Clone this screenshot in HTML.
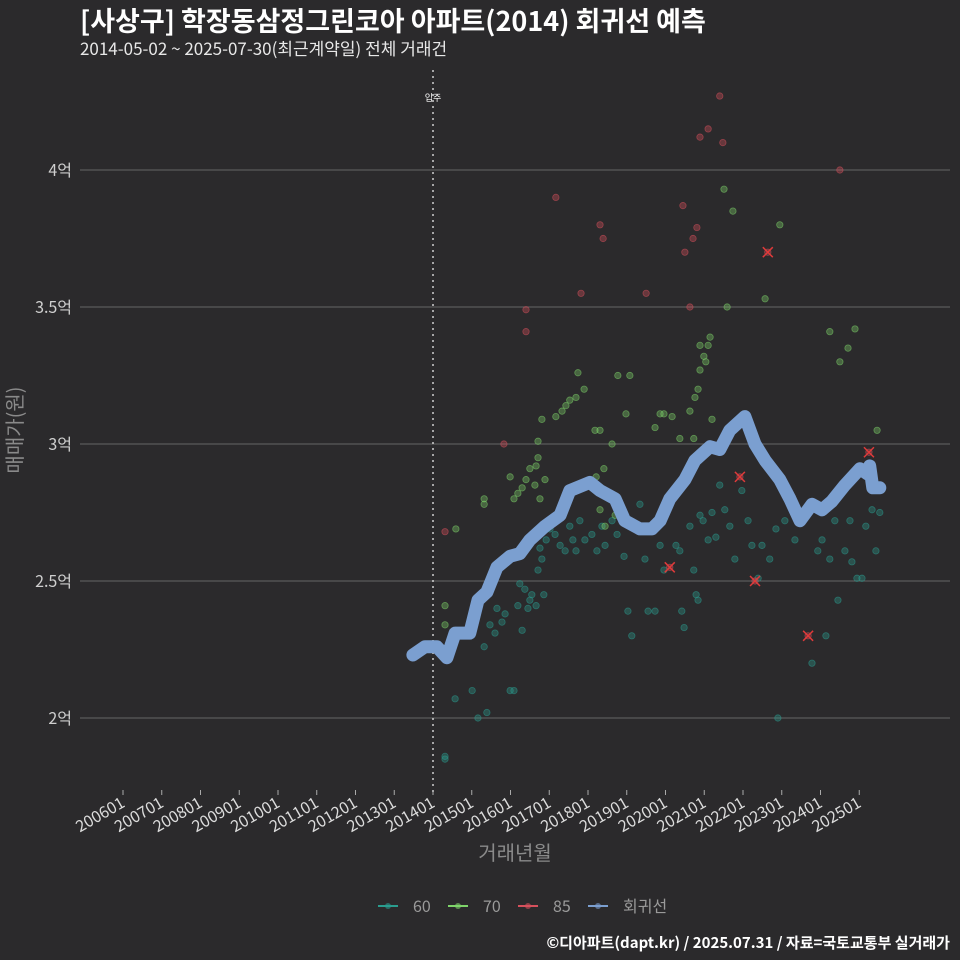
<!DOCTYPE html>
<html><head><meta charset="utf-8"><style>
html,body{margin:0;padding:0;background:#2b2a2c;}
svg{display:block;font-family:"Noto Sans CJK KR","Liberation Sans",sans-serif;}
</style></head><body>
<svg id="chart" width="960" height="960" viewBox="0 0 960 960">
<rect x="0" y="0" width="960" height="960" fill="#2b2a2c"/>
<text x="80" y="31" fill="#ffffff" font-size="27" font-weight="bold">[사상구] 학장동삼정그린코아 아파트(2014) 회귀선 예측</text>
<text x="80" y="55" fill="#e8e8e8" font-size="17">2014-05-02 ~ 2025-07-30(최근계약일) 전체 거래건</text>
<g id="grid"></g>
<g id="axes"></g>
<g id="marks"></g>
<text x="0" y="0" transform="translate(22,430) rotate(-90)" text-anchor="middle" fill="#8a8a8a" font-size="20">매매가(원)</text>
<text x="515" y="860" text-anchor="middle" fill="#8a8a8a" font-size="20">거래년월</text>
<g id="legend"></g>
<text x="950" y="948" text-anchor="end" fill="#ffffff" font-size="15" font-weight="bold">©디아파트(dapt.kr) / 2025.07.31 / 자료=국토교통부 실거래가</text>
</svg>
<script>
const yTicks=[2,2.5,3,3.5,4];
const yTickLabels=["2억","2.5억","3억","3.5억","4억"];
const xTickYears=[2006,2007,2008,2009,2010,2011,2012,2013,2014,2015,2016,2017,2018,2019,2020,2021,2022,2023,2024,2025];
const xTickLabels=["200601","200701","200801","200901","201001","201101","201201","201301","201401","201501","201601","201701","201801","201901","202001","202101","202201","202301","202401","202501"];
const moveInYear=2014;
const s60Years=[2014.31,2014.31,2014.57,2015.01,2015.16,2015.39,2015.32,2015.47,2015.60,2015.65,2015.78,2015.86,2015.99,2016.09,2016.19,2016.30,2016.24,2016.37,2016.45,2016.50,2016.55,2016.66,2016.71,2016.76,2016.81,2016.86,2016.92,2017.02,2017.15,2017.28,2017.41,2017.53,2017.61,2017.69,2017.79,2017.92,2018.10,2018.23,2018.36,2018.44,2018.62,2018.75,2018.93,2019.03,2019.13,2019.34,2019.47,2019.55,2019.65,2019.73,2019.86,2019.96,2020.27,2020.37,2020.42,2020.48,2020.63,2020.73,2020.79,2020.84,2020.89,2020.97,2021.10,2021.20,2021.30,2021.40,2021.53,2021.66,2021.79,2021.97,2022.13,2022.23,2022.39,2022.49,2022.69,2022.85,2022.90,2023.08,2023.34,2023.47,2023.78,2023.93,2024.04,2024.14,2024.24,2024.37,2024.45,2024.63,2024.76,2024.81,2024.94,2025.07,2025.17,2025.33,2025.43,2025.53];
const s60Values=[1.86,1.85,2.07,2.10,2.00,2.02,2.26,2.34,2.31,2.40,2.35,2.38,2.10,2.10,2.41,2.32,2.49,2.47,2.40,2.43,2.45,2.41,2.54,2.62,2.58,2.45,2.65,2.69,2.67,2.63,2.61,2.70,2.65,2.61,2.72,2.65,2.67,2.61,2.70,2.63,2.72,2.67,2.59,2.39,2.30,2.78,2.58,2.39,2.69,2.39,2.63,2.54,2.63,2.61,2.39,2.33,2.70,2.54,2.45,2.43,2.74,2.72,2.65,2.75,2.66,2.85,2.76,2.70,2.58,2.83,2.72,2.63,2.51,2.63,2.58,2.69,2.00,2.72,2.65,2.72,2.20,2.61,2.65,2.30,2.58,2.72,2.43,2.61,2.72,2.57,2.51,2.51,2.70,2.76,2.61,2.75];
const s70Years=[2014.31,2014.31,2014.59,2015.32,2015.32,2015.99,2016.09,2016.19,2016.30,2016.40,2016.50,2016.63,2016.66,2016.71,2016.71,2016.81,2017.17,2017.33,2017.43,2017.53,2017.69,2017.74,2017.90,2018.18,2018.31,2018.41,2018.62,2018.77,2018.98,2019.08,2019.73,2019.86,2019.96,2020.17,2020.37,2020.63,2020.73,2020.76,2020.84,2020.89,2020.89,2020.99,2021.04,2021.10,2021.15,2021.20,2021.51,2021.59,2021.74,2022.57,2022.95,2024.24,2024.50,2024.71,2024.89,2025.46,2018.31,2018.44,2018.70,2016.76,2016.89,2018.21];
const s70Values=[2.41,2.34,2.69,2.80,2.78,2.88,2.80,2.82,2.84,2.87,2.91,2.85,2.92,2.95,3.01,3.09,3.10,3.12,3.14,3.16,3.17,3.26,3.20,3.05,3.05,2.91,3.00,3.25,3.11,3.25,3.06,3.11,3.11,3.10,3.02,3.12,3.02,3.17,3.20,3.27,3.36,3.32,3.30,3.36,3.39,3.09,3.93,3.50,3.85,3.53,3.80,3.41,3.30,3.35,3.42,3.05,2.76,2.70,2.74,2.80,2.87,2.88];
const s85Years=[2014.31,2016.40,2016.40,2015.83,2017.17,2017.82,2018.31,2018.39,2019.50,2020.45,2020.50,2020.63,2020.71,2020.81,2020.89,2021.10,2021.40,2021.48,2021.92,2022.31,2022.64,2023.68,2024.50,2025.25,2020.11];
const s85Values=[2.68,3.49,3.41,3.00,3.90,3.55,3.80,3.75,3.55,3.87,3.70,3.50,3.75,3.79,4.12,4.15,4.27,4.10,2.88,2.50,3.70,2.30,4.00,2.97,2.55];
const highlightYears=[2020.11,2021.92,2022.31,2022.64,2023.68,2025.25];
const highlightValues=[2.55,2.88,2.50,3.70,2.30,2.97];
const regYears=[2013.48,2013.79,2014.10,2014.36,2014.57,2014.95,2015.16,2015.39,2015.65,2015.99,2016.24,2016.50,2016.89,2017.28,2017.53,2018.05,2018.31,2018.70,2018.95,2019.34,2019.65,2019.86,2020.11,2020.50,2020.76,2021.15,2021.40,2021.66,2022.05,2022.31,2022.57,2022.95,2023.21,2023.47,2023.78,2024.04,2024.29,2024.63,2025.02,2025.22,2025.27,2025.35,2025.53];
const regValues=[2.23,2.26,2.26,2.22,2.31,2.31,2.43,2.46,2.55,2.59,2.60,2.65,2.70,2.74,2.83,2.86,2.83,2.80,2.72,2.69,2.69,2.72,2.80,2.87,2.94,2.99,2.98,3.05,3.10,3.00,2.94,2.87,2.80,2.72,2.78,2.76,2.79,2.85,2.91,2.89,2.92,2.84,2.84];

const NS="http://www.w3.org/2000/svg";
function xS(yr){return 433+(yr-2014)*38.75;}
function yS(v){return 718-(v-2)*274;}
function mk(tag,attrs,parent){const e=document.createElementNS(NS,tag);for(const k in attrs)e.setAttribute(k,attrs[k]);parent.appendChild(e);return e;}
const grid=document.getElementById('grid'),axes=document.getElementById('axes'),marks=document.getElementById('marks'),legend=document.getElementById('legend');
yTicks.forEach((t,i)=>{
  const l=mk('line',{x1:80,x2:950,y1:yS(t),y2:yS(t),stroke:'#666',"stroke-width":1},grid);
  
  
  const tx=mk('text',{x:72,y:yS(t)+6,"text-anchor":"end",fill:"#cfcfcf","font-size":16},axes);
  tx.textContent=yTickLabels[i];
  
  
});
xTickYears.forEach((t,i)=>{
  const x=xS(t);
  const tk=mk('line',{x1:x,x2:x,y1:790,y2:795,stroke:'#aaa',"stroke-width":1},axes);
  
  
  const tx=mk('text',{x:0,y:0,transform:`translate(${x+3},${806}) rotate(-30)`,"text-anchor":"end",fill:"#dcdcdc","font-size":16},axes);
  tx.textContent=xTickLabels[i];
  
  
});
const mv=mk('line',{x1:xS(moveInYear),x2:xS(moveInYear),y1:70,y2:792,stroke:'#d0d0d0',"stroke-width":1.5,"stroke-dasharray":"2,4"},marks);


const mvt=mk('text',{x:xS(moveInYear),y:101,"text-anchor":"middle",fill:"#fff","font-size":9},marks);
mvt.textContent='입주';


function pts(years,vals,fill,name){
  years.forEach((yr,i)=>{
    const c=mk('circle',{cx:xS(yr),cy:yS(vals[i]),r:3.2,fill:fill,"fill-opacity":0.35,stroke:fill,"stroke-opacity":0.55,"stroke-width":0.8},marks);
    
    
  });
}
pts(s60Years,s60Values,'#2a9d8f','point-60');
pts(s70Years,s70Values,'#7ed46a','point-70');
pts(s85Years,s85Values,'#d6505c','point-85');
highlightYears.forEach((yr,i)=>{
  const x=xS(yr),y=yS(highlightValues[i]);
  const p=mk('path',{d:`M${x-5},${y-5}L${x+5},${y+5}M${x-5},${y+5}L${x+5},${y-5}`,stroke:'#e03a3a',"stroke-width":1.5},marks);
  
  
});
const d=regYears.map((yr,i)=>(i?'L':'M')+xS(yr).toFixed(1)+','+yS(regValues[i]).toFixed(1)).join('');
const rl=mk('path',{d:d,fill:'none',stroke:'#7b9fd0',"stroke-width":13,"stroke-linejoin":"round","stroke-linecap":"round"},marks);


const legItems=[['60','#2a9d8f',378],['70','#7ed46a',448],['85','#d6505c',518],['회귀선','#7b9fd0',588]];
legItems.forEach(it=>{
  const g=mk('g',{},legend);
  
  
  mk('line',{x1:it[2],x2:it[2]+20,y1:906,y2:906,stroke:it[1],"stroke-width":2},g);
  mk('circle',{cx:it[2]+10,cy:906,r:3,fill:it[1],"fill-opacity":0.6},g);
  const t=mk('text',{x:it[2]+35,y:912,fill:'#9a9a9a',"font-size":16},g);
  t.textContent=it[0];
});
</script>
</body></html>
